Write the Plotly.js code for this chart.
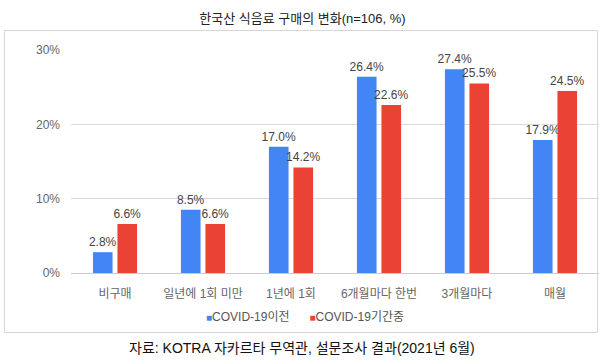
<!DOCTYPE html>
<html>
<head>
<meta charset="utf-8">
<script src="https://cdn.plot.ly/plotly-3.0.1.min.js"></script>
<style>
html,body{margin:0;padding:0;background:#fff;}
#chart{width:605px;height:364px;}
</style>
</head>
<body>
<div id="chart"></div>
<script>
const categories = ['비구매', '일년에 1회 미만', '1년에 1회', '6개월마다 한번', '3개월마다', '매월'];
const seriesNames = ['COVID-19이전', 'COVID-19기간중'];
const beforeValues = [2.8, 8.5, 17.0, 26.4, 27.4, 17.9];
const duringValues = [6.6, 6.6, 14.2, 22.6, 25.5, 24.5];
const yTicks = [0, 10, 20, 30];
const yTickLabels = ['0%', '10%', '20%', '30%'];
const titleText = '한국산 식음료 구매의 변화(n=106, %)';
const sourceText = '자료: KOTRA 자카르타 무역관, 설문조사 결과(2021년 6월)';
const colors = ['#4285F4', '#EA4335'];

const FONT = 'Liberation Sans, Arial, Noto Sans CJK KR, sans-serif';

const mkTrace = (name, vals, color) => ({
  type: 'bar',
  name: name,
  x: categories,
  y: vals,
  marker: {color: color},
  texttemplate: '%{y:.1f}%',
  textposition: 'outside',
  constraintext: 'none',
  cliponaxis: false,
  textfont: {family: FONT, size: 12, color: '#444'},
  showlegend: false,
  hoverinfo: 'x+y'
});

const data = [
  mkTrace(seriesNames[0], beforeValues, colors[0]),
  mkTrace(seriesNames[1], duringValues, colors[1])
];

// plot area pixels: x 71..599, y 50..273
const L = 71, R = 599, T = 50, B = 273;
const W = R - L, H = B - T;
const px = v => (v - L) / W;
const py = v => (B - v) / H;

const legendText = '<span style="color:' + colors[0] + ';font-size:10px">■</span>' + seriesNames[0] +
  '      <span style="color:' + colors[1] + ';font-size:10px">■</span>' + seriesNames[1];

const layout = {
  width: 605, height: 364,
  margin: {l: L, r: 605 - R, t: T, b: 364 - B, pad: 0},
  paper_bgcolor: '#fff', plot_bgcolor: '#fff',
  font: {family: FONT, size: 12, color: '#555'},
  title: {text: titleText, x: 0.5, xref: 'container', xanchor: 'center',
          y: 1 - 18 / 364, yref: 'container', yanchor: 'middle',
          font: {family: FONT, size: 13, color: '#222'}},
  barmode: 'group',
  bargap: 0.443,
  bargroupgap: 0.2,
  showlegend: false,
  xaxis: {
    type: 'category', showgrid: false, zeroline: false, showline: false,
    ticks: '', ticklabelstandoff: 12,
    tickfont: {family: FONT, size: 12, color: '#666'}
  },
  yaxis: {
    range: [0, 30], tickvals: yTicks, ticktext: yTickLabels,
    showgrid: true, gridcolor: '#d9d9d9', gridwidth: 1,
    zeroline: true, zerolinecolor: '#cccccc', zerolinewidth: 1,
    showline: false, ticks: '', ticklabelstandoff: 10,
    tickfont: {family: FONT, size: 12, color: '#666'}
  },
  shapes: [{
    type: 'rect', xref: 'paper', yref: 'paper',
    x0: px(4.5), x1: px(597.5), y0: py(332.5), y1: py(30.5),
    line: {color: '#d6d6d6', width: 1}, fillcolor: 'rgba(0,0,0,0)', layer: 'below'
  }],
  annotations: [
    {text: legendText, xref: 'paper', yref: 'paper', x: px(305), y: py(317),
     xanchor: 'center', yanchor: 'middle', showarrow: false,
     font: {family: FONT, size: 12, color: '#555'}},
    {text: sourceText, xref: 'paper', yref: 'paper', x: px(302), y: py(348),
     xanchor: 'center', yanchor: 'middle', showarrow: false,
     font: {family: FONT, size: 14, color: '#111'}}
  ]
};

Plotly.newPlot('chart', data, layout, {displayModeBar: false, staticPlot: true});
</script>
</body>
</html>
